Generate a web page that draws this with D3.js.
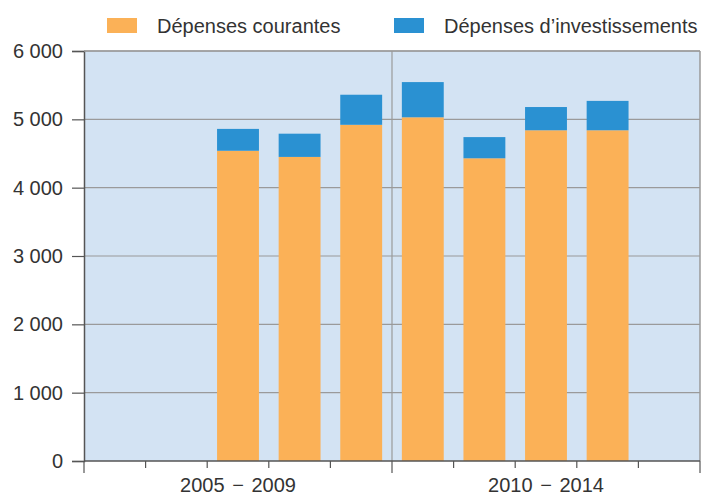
<!DOCTYPE html>
<html>
<head>
<meta charset="utf-8">
<script src="https://cdn.jsdelivr.net/npm/d3@7"></script>
<style>
  body { margin: 0; background: #fff; }
  text { font-family: "Liberation Sans", Arial, sans-serif; }
</style>
</head>
<body>
<div id="wrapper"></div>
<script>
const years = ['2005', '2006', '2007', '2008', '2009', '2010', '2011', '2012', '2013', '2014']
const courantes = [null, null, 4540, 4450, 4920, 5030, 4430, 4840, 4840, null]
const investissements = [null, null, 320, 340, 440, 515, 310, 340, 430, null]
const seriesNames = ['Dépenses courantes', 'Dépenses d\u2019investissements']
const yTicks = [0, 1000, 2000, 3000, 4000, 5000, 6000]
const groupLabels = ['2005 \u2212 2009', '2010 \u2212 2014']
const groupCenters = ['2007', '2012']
const groupBreak = '2010'

const colors = ['#fbb157', '#2a91d2']

let dimensions = {
  width: 702,
  height: 495,
  margin: { top: 51, right: 2, bottom: 34, left: 84 }
}
dimensions.boundedWidth = dimensions.width - dimensions.margin.left - dimensions.margin.right
dimensions.boundedHeight = dimensions.height - dimensions.margin.top - dimensions.margin.bottom

const svg = d3.select('#wrapper')
  .append('svg')
  .attr('width', dimensions.width)
  .attr('height', dimensions.height)

const bounds = svg.append('g')
  .attr('transform', `translate(${dimensions.margin.left},${dimensions.margin.top})`)

const xScale = d3.scaleBand().domain(years).range([0, dimensions.boundedWidth])
const yScale = d3.scaleLinear().domain([0, 6000]).range([dimensions.boundedHeight, 0])

// background
bounds.append('rect')
  .attr('width', dimensions.boundedWidth)
  .attr('height', dimensions.boundedHeight)
  .attr('fill', '#d3e3f3')

// gridlines
bounds.append('g')
  .selectAll('line')
  .data(yTicks.filter(d => d > 0))
  .enter().append('line')
  .attr('x1', 0)
  .attr('x2', dimensions.boundedWidth)
  .attr('y1', d => yScale(d))
  .attr('y2', d => yScale(d))
  .attr('stroke', '#9a9a9a')
  .attr('stroke-width', 1.2)

// separator between the two periods
bounds.append('line')
  .attr('x1', xScale(groupBreak))
  .attr('x2', xScale(groupBreak))
  .attr('y1', 0)
  .attr('y2', dimensions.boundedHeight)
  .attr('stroke', '#9a9a9a')
  .attr('stroke-width', 1.2)

// right border
bounds.append('line')
  .attr('x1', dimensions.boundedWidth)
  .attr('x2', dimensions.boundedWidth)
  .attr('y1', 0)
  .attr('y2', dimensions.boundedHeight)
  .attr('stroke', '#9a9a9a')
  .attr('stroke-width', 1.5)

// stacked bars
const rows = years.map((y, i) => ({ year: y, c: courantes[i], inv: investissements[i] }))
  .filter(d => d.c != null)
const barWidth = xScale.bandwidth() * 0.68
const barX = d => xScale(d.year) + (xScale.bandwidth() - barWidth) / 2

const barGroups = bounds.append('g').selectAll('g')
  .data(rows)
  .enter().append('g')

barGroups.append('rect')
  .attr('x', barX)
  .attr('width', barWidth)
  .attr('y', d => yScale(d.c))
  .attr('height', d => yScale(0) - yScale(d.c))
  .attr('fill', colors[0])

barGroups.append('rect')
  .attr('x', barX)
  .attr('width', barWidth)
  .attr('y', d => yScale(d.c + d.inv))
  .attr('height', d => yScale(d.c) - yScale(d.c + d.inv))
  .attr('fill', colors[1])

// y axis
const fmt = d3.formatLocale({ decimal: ',', thousands: '\u00a0', grouping: [3], currency: ['', ''] }).format(',')
const yAxis = bounds.append('g')
  .call(d3.axisLeft(yScale).tickValues(yTicks).tickFormat(fmt).tickSize(12).tickPadding(9))
yAxis.select('.domain').attr('stroke', '#555').attr('stroke-width', 1.5)
yAxis.selectAll('.tick line').attr('stroke', '#555').attr('stroke-width', 1.2)
yAxis.selectAll('text').attr('fill', '#333').style('font-size', '20px')

// top border
bounds.append('line')
  .attr('x1', 0)
  .attr('x2', dimensions.boundedWidth)
  .attr('y1', 0)
  .attr('y2', 0)
  .attr('stroke', '#9a9a9a')
  .attr('stroke-width', 1.5)

// x axis: slot boundary ticks
const xAxis = bounds.append('g')
  .attr('transform', `translate(0,${dimensions.boundedHeight})`)
xAxis.append('line')
  .attr('x1', 0)
  .attr('x2', dimensions.boundedWidth)
  .attr('stroke', '#555')
  .attr('stroke-width', 1.5)
const boundaries = years.map(y => xScale(y)).concat([dimensions.boundedWidth])
xAxis.selectAll('line.tick')
  .data(boundaries)
  .enter().append('line')
  .attr('class', 'tick')
  .attr('x1', d => d)
  .attr('x2', d => d)
  .attr('y1', 0)
  .attr('y2', (d, i) => (i === 0 || i === boundaries.length - 1 || d === xScale(groupBreak)) ? 12 : 7)
  .attr('stroke', '#555')
  .attr('stroke-width', 1.2)

xAxis.selectAll('text')
  .data(groupLabels)
  .enter().append('text')
  .attr('x', (d, i) => xScale(groupCenters[i]) + xScale.bandwidth() / 2)
  .attr('y', 31)
  .attr('text-anchor', 'middle')
  .attr('fill', '#333')
  .style('font-size', '20px')
  .style('word-spacing', '2px')
  .text(d => d)

// legend
const legendX = [107, 394]
const legend = svg.append('g').selectAll('g')
  .data(seriesNames)
  .enter().append('g')
  .attr('transform', (d, i) => `translate(${legendX[i]},18)`)
legend.append('rect')
  .attr('width', 30)
  .attr('height', 15)
  .attr('fill', (d, i) => colors[i])
legend.append('text')
  .attr('x', 50)
  .attr('y', 15)
  .attr('fill', '#333')
  .style('font-size', '20px')
  .text(d => d)
</script>
</body>
</html>
